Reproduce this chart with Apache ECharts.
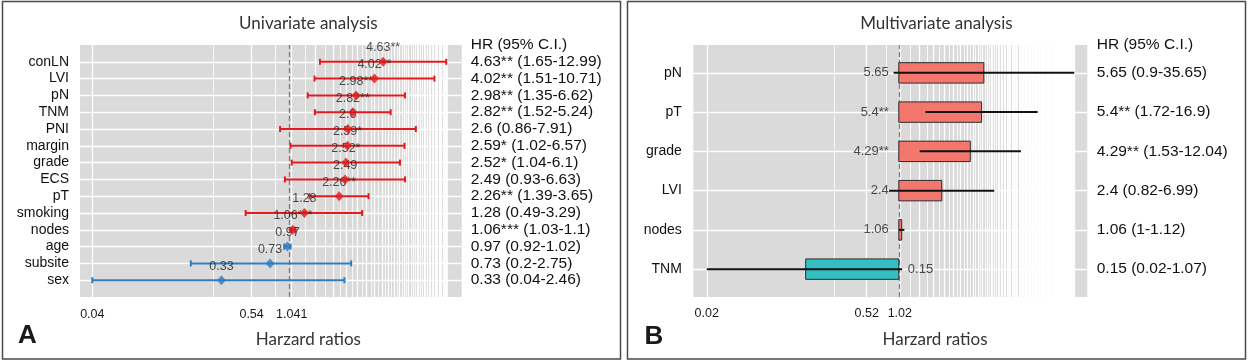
<!DOCTYPE html>
<html><head><meta charset="utf-8">
<script src="https://cdn.jsdelivr.net/npm/echarts@6/dist/echarts.min.js"></script>
<style>html,body{margin:0;padding:0;background:#fff}#c{width:1248px;height:362px}</style>
</head><body><div id="c"></div><script>
// ---------- Univariate (bottom to top) ----------
const uniCats = ['sex','subsite','age','nodes','smoking','pT','ECS','grade','margin','PNI','TNM','pN','LVI','conLN'];
const uniHR   = [0.33, 0.73, 0.97, 1.06, 1.28, 2.26, 2.49, 2.52, 2.59, 2.6, 2.82, 2.98, 4.02, 4.63];
const uniLo   = [0.04, 0.2, 0.92, 1.03, 0.49, 1.39, 0.93, 1.04, 1.02, 0.86, 1.52, 1.35, 1.51, 1.65];
const uniHi   = [2.46, 2.75, 1.02, 1.1, 3.29, 3.65, 6.63, 6.1, 6.57, 7.91, 5.24, 6.62, 10.71, 12.99];
const uniSig  = ['', '', '', '***', '', '**', '', '*', '*', '', '**', '**', '**', '**'];
const uniTickValues = [0.04, 0.54, 1.04];
const uniTickLabels = ['0.04', '0.54', '1.041'];

// ---------- Multivariate (bottom to top) ----------
const multiCats = ['TNM','nodes','LVI','grade','pT','pN'];
const multiHR   = [0.15, 1.06, 2.4, 4.29, 5.4, 5.65];
const multiLo   = [0.02, 1, 0.82, 1.53, 1.72, 0.9];
const multiHi   = [1.07, 1.12, 6.99, 12.04, 16.9, 35.65];
const multiSig  = ['', '', '', '**', '**', ''];
const multiTickValues = [0.02, 0.52, 1.02];
const multiTickLabels = ['0.02', '0.52', '1.02'];

const headerText = 'HR (95% C.I.)';
const RED = '#E41A1C', BLUE = '#2F7CBF', SALMON = '#F4776E', TEAL = '#33BFC2';
const PANEL = '#DADADB';
const SANS = '"Liberation Sans", Arial, sans-serif';
const TITLEF = 'Lato, "Open Sans", sans-serif';

const uniTable = uniCats.map((c,i)=> uniHR[i] + uniSig[i] + ' (' + uniLo[i] + '-' + uniHi[i] + ')');
const multiTable = multiCats.map((c,i)=> multiHR[i] + multiSig[i] + ' (' + multiLo[i] + '-' + multiHi[i] + ')');

function gridBreaks(start, end, step){
  const out = [];
  for (let k = 0; start + k*step <= end + 1e-9; k++){
    const v = +(start + k*step).toFixed(4);
    out.push({xAxis: v, lineStyle:{color:'#ffffff', width: k%2===0 ? 1.3 : 0.8, type:'solid'}});
  }
  return out;
}
function rowLines(n){
  const out = [];
  for (let i = 1; i <= n; i++) out.push({yAxis: i, lineStyle:{color:'#ffffff', width:1.3, type:'solid'}});
  return out;
}
function tickFmt(vals, labs){
  return function(v){
    for (let i=0;i<vals.length;i++) if (Math.abs(vals[i]-v) < 1e-6) return labs[i];
    return '';
  };
}
const range = n => Array.from({length:n}, (_,i)=> i+1);

const chart = echarts.init(document.getElementById('c'), null, {renderer:'canvas'});

const xBase = {
  type:'log', logBase: 10,
  axisLine:{show:false}, axisTick:{show:false}, splitLine:{show:false}, minorSplitLine:{show:false}
};
const yBase = {
  type:'value', axisLine:{show:false}, axisTick:{show:false}, splitLine:{show:false}
};
const markBase = {symbol:['none','none'], silent:true, animation:false, z:1, zlevel:0,
  label:{show:false}, emphasis:{disabled:true}};
const DASH = {color:'#7d7d7d', width:1.3, type:[5,3]};

const option = {
  animation:false,
  grid:[
    {left:80, top:45, width:381.7, height:252, show:true, backgroundColor:PANEL, borderWidth:0},
    {left:693.3, top:45, width:394, height:252, show:true, backgroundColor:PANEL, borderWidth:0}
  ],
  xAxis:[
    Object.assign({}, xBase, {gridIndex:0, min:0.0327, max:16.73,
      axisLabel:{show:true, customValues: uniTickValues, formatter: tickFmt(uniTickValues, uniTickLabels),
        margin:11, fontSize:12.5, color:'#1a1a1a', fontFamily:SANS}}),
    Object.assign({}, xBase, {gridIndex:1, min:0.0152, max:46.5,
      axisLabel:{show:true, customValues: multiTickValues, formatter: tickFmt(multiTickValues, multiTickLabels),
        margin:10, fontSize:12.5, color:'#1a1a1a', fontFamily:SANS}})
  ],
  yAxis:[
    Object.assign({}, yBase, {gridIndex:0, min:0, max:15, position:'left',
      axisLabel:{customValues: range(14), formatter: v => uniCats[Math.round(v)-1] || '',
        margin:11, fontSize:14, color:'#111', fontFamily:SANS}}),
    Object.assign({}, yBase, {gridIndex:0, min:0, max:15, position:'right',
      axisLabel:{customValues: range(15), showMaxLabel:true,
        formatter: v => { const r = Math.round(v); return r === 15 ? headerText : (uniTable[r-1] || ''); },
        margin:9, fontSize:15.5, color:'#111', fontFamily:SANS, align:'left'}}),
    Object.assign({}, yBase, {gridIndex:1, min:0.29, max:6.71, position:'left',
      axisLabel:{customValues: range(6), formatter: v => multiCats[Math.round(v)-1] || '',
        margin:11.5, fontSize:14, color:'#111', fontFamily:SANS}}),
    Object.assign({}, yBase, {gridIndex:1, min:0.29, max:6.71, position:'right',
      axisLabel:{customValues: range(6).concat([6.71]), showMaxLabel:true,
        formatter: v => v > 6.5 ? headerText : (multiTable[Math.round(v)-1] || ''),
        margin:9.4, fontSize:15.5, color:'#111', fontFamily:SANS, align:'left'}})
  ],
  series:[
    // ---- left: gridlines ----
    {type:'line', xAxisIndex:0, yAxisIndex:0, data:[], z:1, silent:true,
      markLine:Object.assign({}, markBase, {
        data: gridBreaks(0.04, 13.3, 0.25).concat(rowLines(14)).concat([{xAxis:1, lineStyle:DASH}])})},
    // ---- left: error bars ----
    {type:'custom', xAxisIndex:0, yAxisIndex:0, z:10, silent:true,
      data: uniCats.map((c,i)=>[uniLo[i], uniHi[i], i+1, uniHR[i]]),
      encode:{x:[0,1], y:2},
      renderItem(params, api){
        const y = api.value(2);
        const a = api.coord([api.value(0), y]);
        const b = api.coord([api.value(1), y]);
        const st = {stroke: api.value(3) >= 1 ? RED : BLUE, lineWidth:2};
        const cap = 3;
        return {type:'group', children:[
          {type:'line', shape:{x1:a[0], y1:a[1], x2:b[0], y2:b[1]}, style:st},
          {type:'line', shape:{x1:a[0], y1:a[1]-cap, x2:a[0], y2:a[1]+cap}, style:st},
          {type:'line', shape:{x1:b[0], y1:b[1]-cap, x2:b[0], y2:b[1]+cap}, style:st}
        ]};
      }},
    // ---- left: value labels ----
    {type:'scatter', xAxisIndex:0, yAxisIndex:0, z:11, silent:true, symbolSize:0,
      data: uniCats.map((c,i)=>({value:[uniHR[i], i+1]})),
      label:{show:true, position:'inside', offset:[0,-14], fontSize:12.5, color:'#222', fontFamily:SANS,
        formatter: p => uniHR[p.dataIndex] + uniSig[p.dataIndex]}},
    // ---- left: points ----
    {type:'scatter', xAxisIndex:0, yAxisIndex:0, z:12, silent:true, symbol:'diamond', symbolSize:[9,10],
      data: uniCats.map((c,i)=>({value:[uniHR[i], i+1], itemStyle:{color: uniHR[i] >= 1 ? RED : BLUE}}))},

    // ---- right: gridlines ----
    {type:'line', xAxisIndex:1, yAxisIndex:2, data:[], z:1, silent:true,
      markLine:Object.assign({}, markBase, {
        data: gridBreaks(0.02, 35.6, 0.25).concat(rowLines(6)).concat([{xAxis:1, lineStyle:DASH}])})},
    // ---- right: bars + error lines ----
    {type:'custom', xAxisIndex:1, yAxisIndex:2, z:10, silent:true,
      data: multiCats.map((c,i)=>[multiLo[i], multiHi[i], i+1, multiHR[i]]),
      encode:{x:[0,1,3], y:2},
      renderItem(params, api){
        const y = api.value(2), hr = api.value(3);
        const base = api.coord([1, y]);
        const end = api.coord([hr, y]);
        const top = api.coord([1, y + 0.26])[1];
        const bot = api.coord([1, y - 0.26])[1];
        const a = api.coord([api.value(0), y]);
        const b = api.coord([api.value(1), y]);
        const x0 = Math.min(base[0], end[0]), w = Math.abs(end[0]-base[0]);
        return {type:'group', children:[
          {type:'rect', shape:{x:x0, y:top, width:w, height:bot-top},
            style:{fill: hr >= 1 ? SALMON : TEAL, stroke:'#2b2b2b', lineWidth:1}},
          {type:'line', shape:{x1:a[0], y1:a[1], x2:b[0], y2:b[1]}, style:{stroke:'#111', lineWidth:2}}
        ]};
      }},
    // ---- right: HR labels ----
    {type:'scatter', xAxisIndex:1, yAxisIndex:2, z:11, silent:true, symbolSize:0,
      data: multiCats.map((c,i)=>({value:[1, i+1],
        label:{position: multiHR[i] >= 1 ? 'left' : 'right', distance: multiHR[i] >= 1 ? 10 : 9}})),
      label:{show:true, fontSize:13, color:'#222', fontFamily:SANS,
        formatter: p => multiHR[p.dataIndex] + multiSig[p.dataIndex]}}
  ],
  graphic:[
    {type:'rect', silent:true, shape:{x:2.5, y:1.5, width:618, height:357.5}, style:{fill:'none', stroke:'#4a4a4a', lineWidth:1.5}},
    {type:'rect', silent:true, shape:{x:627.5, y:1.5, width:618, height:357.5}, style:{fill:'none', stroke:'#4a4a4a', lineWidth:1.5}},
    {type:'text', silent:true, style:{text:'Univariate analysis', x:308.4, y:23.3, textAlign:'center', textVerticalAlign:'middle', fontSize:17, fontFamily:TITLEF, fill:'#333'}},
    {type:'text', silent:true, style:{text:'Multivariate analysis', x:936.4, y:23.3, textAlign:'center', textVerticalAlign:'middle', fontSize:17, fontFamily:TITLEF, fill:'#333'}},
    {type:'text', silent:true, style:{text:'Harzard ratios', x:308.4, y:340, textAlign:'center', textVerticalAlign:'middle', fontSize:17, fontFamily:TITLEF, fill:'#333'}},
    {type:'text', silent:true, style:{text:'Harzard ratios', x:935, y:340, textAlign:'center', textVerticalAlign:'middle', fontSize:17, fontFamily:TITLEF, fill:'#333'}},
    {type:'text', silent:true, style:{text:'A', x:27.3, y:336, textAlign:'center', textVerticalAlign:'middle', fontSize:26, fontWeight:'bold', fontFamily:SANS, fill:'#1a1a1a'}},
    {type:'text', silent:true, style:{text:'B', x:654, y:336.5, textAlign:'center', textVerticalAlign:'middle', fontSize:26, fontWeight:'bold', fontFamily:SANS, fill:'#1a1a1a'}}
  ]
};
chart.setOption(option);
</script></body></html>
